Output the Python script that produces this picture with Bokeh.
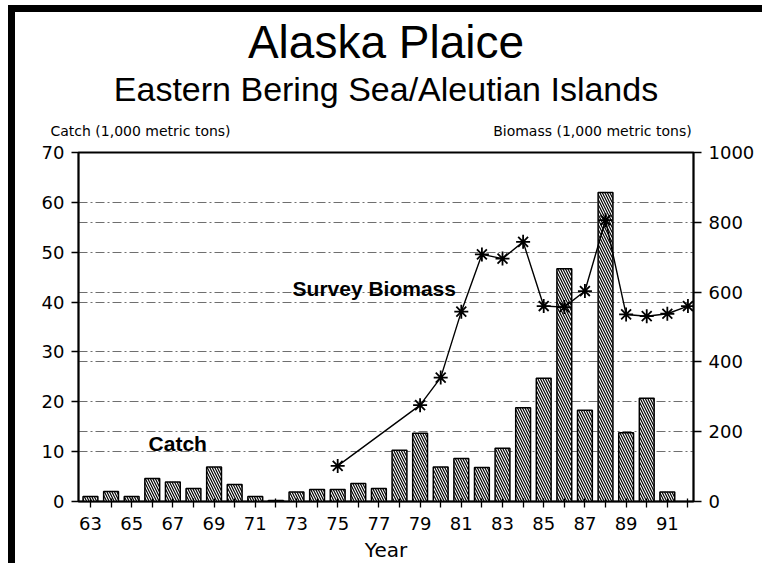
from bokeh.plotting import figure
from bokeh.models import LinearAxis, Range1d, FixedTicker, Label, Grid, Title
from bokeh.embed import file_html
from bokeh.resources import INLINE

# ---- data ----
catch_years = [63, 64, 65, 66, 67, 68, 69, 70, 71, 72, 73, 74, 75, 76, 77,
               78, 79, 80, 81, 82, 83, 84, 85, 86, 87, 88, 89, 90, 91]
catch = [1.0, 2.0, 1.0, 4.6, 3.9, 2.6, 6.9, 3.4, 1.0, 0.2, 1.9, 2.4, 2.4, 3.6, 2.6,
         10.3, 13.7, 6.9, 8.6, 6.8, 10.7, 18.8, 24.7, 46.7, 18.3, 62.0, 13.8, 20.7, 1.9]

bio_years = [75, 79, 80, 81, 82, 83, 84, 85, 86, 87, 88, 89, 90, 91, 92]
biomass = [102, 276, 355, 544, 708, 696, 744, 560, 557, 603, 806, 536, 531, 538, 560]

labeled_years = [63, 65, 67, 69, 71, 73, 75, 77, 79, 81, 83, 85, 87, 89, 91]
unlabeled_years = [64, 66, 68, 70, 72, 74, 76, 78, 80, 82, 84, 86, 88, 90, 92]
catch_ticks = [0, 10, 20, 30, 40, 50, 60, 70]
catch_grid = [10, 20, 30, 40, 50, 60]
bio_ticks = [0, 200, 400, 600, 800, 1000]
bio_grid = [200, 400, 600, 800]

left_caption = "Catch (1,000 metric tons)"
right_caption = "Biomass (1,000 metric tons)"

TICK_FONT = "DejaVu Sans"

p = figure(width=754, height=558,
           x_range=Range1d(62.42, 92.27), y_range=Range1d(0, 70),
           output_backend="svg", toolbar_location=None,
           min_border_left=63, min_border_right=76,
           min_border_top=139, min_border_bottom=69)
p.styles = {"margin-left": "8px", "margin-top": "5px",
            "border-left": "7px solid black", "border-top": "7px solid black"}
p.background_fill_color = "white"
p.border_fill_color = "white"
p.outline_line_color = "black"
p.outline_line_width = 2

p.extra_y_ranges = {"bio": Range1d(0, 1000)}

# x axis
xa = p.xaxis[0]
xa.ticker = FixedTicker(ticks=labeled_years, minor_ticks=unlabeled_years)
xa.axis_line_width = 1.5
xa.major_tick_in = 3
xa.major_tick_out = 6
xa.minor_tick_in = 3
xa.minor_tick_out = 6
xa.major_tick_line_width = 1.3
xa.minor_tick_line_width = 1.3
xa.major_tick_line_color = "black"
xa.minor_tick_line_color = "black"
xa.major_label_text_font = TICK_FONT
xa.major_label_text_font_size = "18px"
xa.major_label_text_color = "black"
xa.major_label_standoff = 9
xa.axis_label = "Year"
xa.axis_label_text_font = TICK_FONT
xa.axis_label_text_font_size = "20px"
xa.axis_label_text_font_style = "normal"
xa.axis_label_text_color = "black"
xa.axis_label_standoff = 5

# left axis
ya = p.yaxis[0]
ya.ticker = FixedTicker(ticks=catch_ticks)
ya.axis_line_width = 1.5
ya.major_tick_in = 0
ya.major_tick_out = 7
ya.major_tick_line_width = 1.3
ya.minor_tick_line_color = None
ya.major_label_text_font = TICK_FONT
ya.major_label_text_font_size = "18px"
ya.major_label_text_color = "black"
ya.major_label_standoff = 7

# right axis
ra = LinearAxis(y_range_name="bio", ticker=FixedTicker(ticks=bio_ticks))
ra.axis_line_width = 1.5
ra.major_tick_in = 0
ra.major_tick_out = 8
ra.major_tick_line_width = 1.3
ra.minor_tick_line_color = None
ra.major_label_text_font = TICK_FONT
ra.major_label_text_font_size = "18px"
ra.major_label_text_color = "black"
ra.major_label_standoff = 7
p.add_layout(ra, "right")

# grids
p.xgrid.visible = False
p.ygrid.ticker = FixedTicker(ticks=catch_grid)
p.ygrid.grid_line_color = "#222222"
p.ygrid.grid_line_alpha = 0.65
p.ygrid.grid_line_width = 1
p.ygrid.grid_line_dash = "9 3 2 3"
g2 = Grid(dimension=1, y_range_name="bio", ticker=FixedTicker(ticks=bio_grid))
g2.grid_line_color = "#222222"
g2.grid_line_alpha = 0.65
g2.grid_line_width = 1
g2.grid_line_dash = "9 3 2 3"
p.add_layout(g2)

# catch bars
p.vbar(x=catch_years, top=catch, width=0.72, bottom=0,
       fill_color="white", line_color="black", line_width=1.5,
       hatch_pattern="\\", hatch_color="black", hatch_scale=5, hatch_weight=1.2)

# survey biomass
p.line(x=bio_years, y=biomass, y_range_name="bio", line_color="black", line_width=1.4)
p.scatter(x=bio_years, y=biomass, y_range_name="bio", marker="asterisk",
          size=14, line_color="black", line_width=1.8)

# titles (stacked above the frame; first added is nearest the frame)
caps = Title(text=left_caption + "\u00a0" * 59 + right_caption,
             align="left", offset=-28, standoff=27,
             text_font="DejaVu Sans", text_font_size="14px",
             text_font_style="normal", text_color="black")
sub = Title(text="Eastern Bering Sea/Aleutian Islands", align="center", standoff=-1,
            text_font="Liberation Sans", text_font_size="34px",
            text_font_style="normal", text_color="black")
main = Title(text="Alaska Plaice", align="center", standoff=2,
             text_font="Liberation Sans", text_font_size="46px",
             text_font_style="normal", text_color="black")
p.add_layout(caps, "above")
p.add_layout(sub, "above")
p.add_layout(main, "above")

# in-plot labels
p.add_layout(Label(x=65.82, y=11.6, text="Catch", text_align="left",
                   text_baseline="middle", text_font="Liberation Sans",
                   text_font_style="bold", text_font_size="21px", text_color="black"))
p.add_layout(Label(x=72.81, y=42.8, text="Survey Biomass", text_align="left",
                   text_baseline="middle", text_font="Liberation Sans",
                   text_font_style="bold", text_font_size="21px", text_color="black"))

open("out.html", "w").write(file_html(p, INLINE))
